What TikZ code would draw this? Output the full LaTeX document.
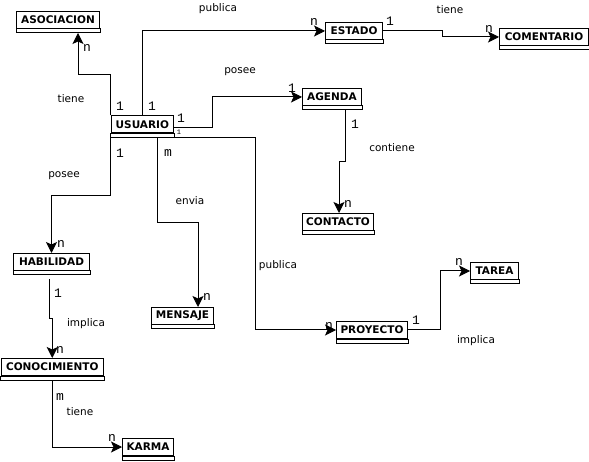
\documentclass[tikz,border=0pt]{standalone}
\usepackage{fontspec}
\setmainfont{DejaVu Sans}
\newfontfamily\cardfont{Liberation Mono}
\usetikzlibrary{arrows.meta}
\tikzset{
  entidad/.style={draw,line width=1pt,fill=white,anchor=north west,minimum height=17pt,inner sep=0pt,font=\fontsize{10.5}{12}\selectfont\bfseries},
  rel/.style={line width=1pt,-{Stealth[length=11pt,width=11pt,inset=2.5pt,fill=black]}},
  card/.style={font=\cardfont\fontsize{13}{13}\selectfont,inner sep=0pt},
  rolname/.style={font=\fontsize{10.5}{12}\selectfont,inner sep=0pt}
}
\begin{document}
\begin{tikzpicture}[x=1pt,y=-1pt]
\useasboundingbox (0,0) rectangle (589,462);
% entidades
\node[entidad,minimum width=83pt] (asoc) at (16,11) {ASOCIACION};
\node[entidad,minimum width=62.3pt] (usu) at (110.7,115.3) {USUARIO};
\node[entidad,minimum width=57pt] (estado) at (325,22) {ESTADO};
\node[entidad,minimum width=89pt] (coment) at (499,28) {COMENTARIO};
\node[entidad,minimum width=59pt] (agenda) at (302,88) {AGENDA};
\node[entidad,minimum width=71pt] (cont) at (302,213) {CONTACTO};
\node[entidad,minimum width=76pt] (habil) at (13,253) {HABILIDAD};
\node[entidad,minimum width=62pt] (mens) at (151,307) {MENSAJE};
\node[entidad,minimum width=71pt] (proy) at (336,321) {PROYECTO};
\node[entidad,minimum width=48pt] (tarea) at (470,262) {TAREA};
\node[entidad,minimum width=102.5pt] (conoc) at (0.5,358) {CONOCIMIENTO};
\node[entidad,minimum width=51pt] (karma) at (122,438) {KARMA};
\foreach \e in {asoc,usu,estado,coment,agenda,cont,habil,mens,proy,tarea,conoc,karma}
  \draw[line width=1pt] (\e.south west) rectangle ([yshift=-4pt]\e.south east);
% relaciones
\node[rolname] (rTieneAsoc) at (71,99) {tiene};
\node[rolname] (rPublicaEst) at (218,9) {publica};
\node[rolname] (rTieneCom) at (450,10) {tiene};
\node[rolname] (rPoseeAg) at (240,72) {posee};
\node[rolname] (rContiene) at (392,148) {contiene};
\node[rolname] (rPoseeHab) at (64,176) {posee};
\node[rolname] (rEnvia) at (190,201) {envia};
\node[rolname] (rPublicaPr) at (278,266) {publica};
\node[rolname] (rImplicaTa) at (476,341) {implica};
\node[rolname] (rImplicaCo) at (86,324) {implica};
\node[rolname] (rTieneKa) at (80,412) {tiene};
% cardinalidades
\node[card] (cAsocN) at (87,48) {n};
\node[card] (cAsocU) at (120,106) {1};
\node[card] (cEstU) at (152,106) {1};
\node[card] (cEstN) at (314,22) {n};
\node[card] (cEstC) at (390,21) {1};
\node[card] (cComN) at (489,29) {n};
\node[card] (cAgU) at (181,118) {1};
\node[card,font=\cardfont\fontsize{7}{7}\selectfont] (cPrU) at (179,132) {1};
\node[card] (cAgA) at (292,88) {1};
\node[card] (cContA) at (355,124) {1};
\node[card] (cContN) at (348,204) {n};
\node[card] (cHabU) at (120,153) {1};
\node[card] (cMensU) at (168,153) {m};
\node[card] (cHabN) at (61,244) {n};
\node[card] (cMensN) at (207,297) {n};
\node[card] (cPrN) at (329,326) {n};
\node[card] (cTaP) at (416,320) {1};
\node[card] (cTaN) at (459,262) {n};
\node[card] (cCoH) at (58,293) {1};
\node[card] (cCoN) at (60,350) {n};
\node[card] (cKaC) at (60,397) {m};
\node[card] (cKaN) at (112,438) {n};
% conectores
\draw[rel] (usu.north west) -- ++(0,-41) -| ([xshift=62pt,yshift=-4pt]asoc.south west);
\draw[rel] ([xshift=32pt]usu.north west) |- (estado.west);
\draw[rel] (estado.east) -- ++(59,0) |- (coment.west);
\draw[rel] ([yshift=-3pt]usu.east) -- ++(38,0) |- (agenda.west);
\draw[rel] ([yshift=-4pt]usu.south east) -- ++(81,0) |- (proy.west);
\draw[rel] ([yshift=-4pt]usu.south west) -- ++(0,58) -| (habil.north);
\draw[rel] ([xshift=47pt,yshift=-4pt]usu.south west) -- ++(0,85) -| ([xshift=47pt]mens.north west);
\draw[rel] ([xshift=43pt,yshift=-4pt]agenda.south west) -- ++(0,52) -| ([xshift=37pt]cont.north west);
\draw[rel] (proy.east) -- ++(32,0) |- (tarea.west);
\draw[rel] ([xshift=36pt,yshift=-8pt]habil.south west) -- ++(0,40) -| (conoc.north);
\draw[rel] ([yshift=-4pt]conoc.south) |- (karma.west);
\end{tikzpicture}
\end{document}
